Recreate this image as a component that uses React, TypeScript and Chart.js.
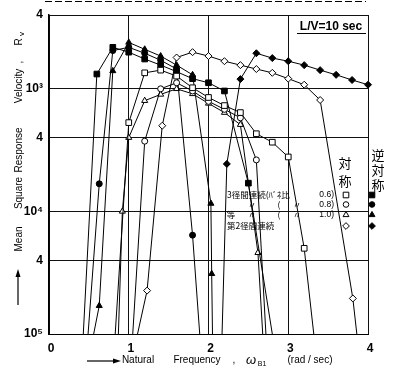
import React, { useEffect, useRef } from 'react';
import { Chart, registerables } from 'chart.js';

Chart.register(...registerables);

// ---------- axis ticks ----------
const xTickValues = [0, 1, 2, 3, 4];
const yTickValues = [1e-5, 4e-5, 1e-4, 4e-4, 1e-3, 4e-3];
const yTickLabels = ['10⁵', '4', '10⁴', '4', '10³', '4'];
const Y_MIN = 1e-5;
const Y_MAX = 4e-3;

// ---------- series: natural frequency (rad/sec) and mean square response velocity ----------
// 3径間連続 ばね比 0.6  対称 (□) / 逆対称 (■)
const omegaSpan3R06Sym = [0.83, 1.0, 1.2, 1.4, 1.6, 1.8, 2.0, 2.2, 2.4, 2.6, 2.8, 3.0, 3.2, 3.32];
const rvSpan3R06Sym = [1e-5, 5.3e-4, 1.35e-3, 1.42e-3, 1.27e-3, 1.02e-3, 8.5e-4, 7.3e-4, 6.4e-4, 4.3e-4, 3.67e-4, 2.78e-4, 5.0e-5, 1e-5];
const omegaSpan3R06Anti = [0.43, 0.6, 0.8, 1.0, 1.2, 1.4, 1.6, 1.8, 2.0, 2.2, 2.5, 2.8];
const rvSpan3R06Anti = [1e-5, 1.32e-3, 2.18e-3, 1.99e-3, 1.75e-3, 1.56e-3, 1.38e-3, 1.21e-3, 1.12e-3, 9.6e-4, 1.7e-4, 1e-5];

// 3径間連続 ばね比 0.8  対称 (○) / 逆対称 (●)
const omegaSpan3R08Sym = [1.05, 1.2, 1.4, 1.6, 1.8, 2.0, 2.2, 2.4, 2.6, 2.72];
const rvSpan3R08Sym = [1e-5, 3.74e-4, 1.0e-3, 1.12e-3, 9.6e-4, 7.9e-4, 6.8e-4, 5.8e-4, 2.63e-4, 1e-5];
const omegaSpan3R08Anti = [0.49, 0.63, 0.8, 1.0, 1.2, 1.4, 1.6, 1.8, 1.89];
const rvSpan3R08Anti = [1e-5, 1.68e-4, 2.05e-3, 2.18e-3, 1.95e-3, 1.71e-3, 1.45e-3, 6.4e-5, 1e-5];

// 3径間連続 ばね比 1.0  対称 (△) / 逆対称 (▲)
const omegaSpan3R10Sym = [0.87, 0.92, 1.0, 1.2, 1.4, 1.6, 1.8, 2.0, 2.2, 2.4, 2.62, 2.68];
const rvSpan3R10Sym = [1e-5, 1e-4, 4.0e-4, 8.0e-4, 9.0e-4, 1.0e-3, 9.1e-4, 7.6e-4, 6.4e-4, 5.1e-4, 4.6e-5, 1e-5];
const omegaSpan3R10Anti = [0.56, 0.63, 0.8, 1.0, 1.2, 1.4, 1.6, 1.8, 2.03, 2.04, 2.05];
const rvSpan3R10Anti = [1e-5, 1.7e-5, 1.4e-3, 2.39e-3, 2.1e-3, 1.85e-3, 1.56e-3, 1.3e-3, 1.16e-4, 3.1e-5, 1e-5];

// 第2径間連続  対称 (◇) / 逆対称 (◆)
const omegaSpan2Sym = [1.11, 1.23, 1.42, 1.6, 1.8, 2.0, 2.2, 2.4, 2.6, 2.8, 3.0, 3.2, 3.4, 3.81, 3.86];
const rvSpan2Sym = [1e-5, 2.26e-5, 5.0e-4, 1.8e-3, 1.99e-3, 1.85e-3, 1.68e-3, 1.56e-3, 1.45e-3, 1.35e-3, 1.21e-3, 1.08e-3, 8.1e-4, 1.95e-5, 1e-5];
const omegaSpan2Anti = [2.17, 2.23, 2.4, 2.6, 2.8, 3.0, 3.2, 3.4, 3.6, 3.8, 4.0];
const rvSpan2Anti = [1e-5, 2.44e-4, 1.2e-3, 1.95e-3, 1.78e-3, 1.68e-3, 1.56e-3, 1.42e-3, 1.30e-3, 1.18e-3, 1.08e-3];

// ---------- texts ----------
const yTitleWords = ['Mean', 'Square', 'Response', 'Velocity', ',', 'R'];
const xTitleWords = ['Natural', 'Frequency', ',', 'ω', '(rad / sec)'];
const caseNote = 'L/V=10 sec';
const legendCol1 = ['対', '称'];
const legendCol2 = ['逆', '対', '称'];

const LATIN = '"Liberation Sans", Arial, sans-serif';
const CJK = '"Noto Sans CJK JP", "Noto Sans CJK SC", sans-serif';

type Marker = 'rect' | 'circle' | 'triangle' | 'rectRot';

function drawMarker(ctx: CanvasRenderingContext2D, style: Marker, filled: boolean, x: number, y: number, r: number) {
  ctx.beginPath();
  if (style === 'rect') {
    ctx.rect(x - r, y - r, 2 * r, 2 * r);
  } else if (style === 'circle') {
    ctx.arc(x, y, r, 0, Math.PI * 2);
  } else if (style === 'triangle') {
    ctx.moveTo(x, y - r * 1.1);
    ctx.lineTo(x + r * 1.05, y + r * 0.75);
    ctx.lineTo(x - r * 1.05, y + r * 0.75);
    ctx.closePath();
  } else {
    ctx.moveTo(x, y - r * 1.2);
    ctx.lineTo(x + r * 1.2, y);
    ctx.lineTo(x, y + r * 1.2);
    ctx.lineTo(x - r * 1.2, y);
    ctx.closePath();
  }
  ctx.fillStyle = filled ? '#000' : '#fff';
  ctx.fill();
  ctx.lineWidth = 1;
  ctx.strokeStyle = '#000';
  ctx.stroke();
}

const annotationPlugin = {
  id: 'annotationPlugin',
  afterDraw(chart: any) {
    const ctx: CanvasRenderingContext2D = chart.ctx;
    ctx.save();
    ctx.fillStyle = '#000';
    ctx.strokeStyle = '#000';

    // scan artifact line at the very top
    ctx.lineWidth = 1;
    ctx.setLineDash([7, 3]);
    ctx.beginPath();
    ctx.moveTo(45, 1.5);
    ctx.lineTo(366, 1.5);
    ctx.stroke();
    ctx.setLineDash([]);

    // y-axis title (rotated words)
    const yCenters = [239, 193, 150, 86, 62, 42];
    ctx.font = `10px ${LATIN}`;
    ctx.textAlign = 'center';
    ctx.textBaseline = 'middle';
    yTitleWords.forEach((w, i) => {
      ctx.save();
      ctx.translate(19, yCenters[i]);
      ctx.rotate(-Math.PI / 2);
      ctx.fillText(w, 0, 0);
      ctx.restore();
    });
    ctx.save();
    ctx.translate(22, 34);
    ctx.rotate(-Math.PI / 2);
    ctx.font = `8px ${LATIN}`;
    ctx.fillText('v', 0, 0);
    ctx.restore();
    // y arrow
    ctx.lineWidth = 1.2;
    ctx.beginPath();
    ctx.moveTo(18, 305);
    ctx.lineTo(18, 276);
    ctx.stroke();
    ctx.beginPath();
    ctx.moveTo(18, 269);
    ctx.lineTo(15.5, 277);
    ctx.lineTo(20.5, 277);
    ctx.closePath();
    ctx.fill();

    // x-axis title
    const xCenters = [138, 197, 234, 251, 310];
    xTitleWords.forEach((w, i) => {
      ctx.font = i === 3 ? `italic 13px ${LATIN}` : `10px ${LATIN}`;
      ctx.fillText(w, xCenters[i], 360);
    });
    ctx.font = `7px ${LATIN}`;
    ctx.fillText('B1', 262, 364);
    ctx.lineWidth = 1.2;
    ctx.beginPath();
    ctx.moveTo(87, 361);
    ctx.lineTo(114, 361);
    ctx.stroke();
    ctx.beginPath();
    ctx.moveTo(121, 361);
    ctx.lineTo(113, 358.5);
    ctx.lineTo(113, 363.5);
    ctx.closePath();
    ctx.fill();

    // L/V note
    ctx.font = `bold 12px ${LATIN}`;
    ctx.fillText(caseNote, 331, 27);
    ctx.lineWidth = 1.2;
    ctx.beginPath();
    ctx.moveTo(297, 33.5);
    ctx.lineTo(366, 33.5);
    ctx.stroke();

    // legend headers (vertical)
    ctx.font = `13px ${CJK}`;
    [163, 181].forEach((yy, i) => ctx.fillText(legendCol1[i], 345, yy));
    [155, 170, 185].forEach((yy, i) => ctx.fillText(legendCol2[i], 378, yy));

    // legend rows
    const rows = [195, 204.5, 214.5, 226];
    ctx.font = `8.5px ${CJK}`;
    ctx.textAlign = 'left';
    ctx.fillText('3径間連続(ﾊﾞﾈ比', 227, rows[0]);
    ctx.fillText('第2径間連続', 227, rows[3]);
    ctx.textAlign = 'center';
    ctx.fillText('等', 231, rows[2]);
    ctx.fillText('〃', 252, rows[1]);
    ctx.fillText('〃', 252, rows[2]);
    ctx.fillText('(', 279, rows[1]);
    ctx.fillText('(', 279, rows[2]);
    ctx.fillText('〃', 297, rows[1]);
    ctx.fillText('〃', 297, rows[2]);
    ctx.textAlign = 'right';
    ctx.font = `8.5px ${LATIN}`;
    ctx.fillText('0.6)', 334, rows[0]);
    ctx.fillText('0.8)', 334, rows[1]);
    ctx.fillText('1.0)', 334, rows[2]);

    const styles: Marker[] = ['rect', 'circle', 'triangle', 'rectRot'];
    styles.forEach((s, i) => {
      drawMarker(ctx, s, false, 346, rows[i], 2.8);
      drawMarker(ctx, s, true, 372, rows[i], 2.8);
    });

    ctx.restore();
  },
};

function makeSeries(label: string, omega: number[], rv: number[], style: Marker, filled: boolean, radius: number) {
  return {
    label,
    data: omega.map((w, i) => ({ x: w, y: rv[i] })),
    borderColor: '#000',
    borderWidth: 1,
    backgroundColor: filled ? '#000' : '#fff',
    pointStyle: style,
    pointBorderColor: '#000',
    pointBackgroundColor: filled ? '#000' : '#fff',
    pointBorderWidth: 1,
    pointRadius: (c: any) => (c.raw && c.raw.y <= Y_MIN * 1.0001 ? 0 : radius),
    tension: 0,
    fill: false,
    clip: false,
  };
}

export default function App() {
  const ref = useRef<HTMLCanvasElement>(null);

  useEffect(() => {
    if (!ref.current) return;
    const tickFont = { family: LATIN, size: 12, weight: 'bold' as const };
    const chart = new Chart(ref.current, {
      type: 'line',
      data: {
        datasets: [
          makeSeries('3径間連続 0.6 対称', omegaSpan3R06Sym, rvSpan3R06Sym, 'rect', false, 4),
          makeSeries('3径間連続 0.6 逆対称', omegaSpan3R06Anti, rvSpan3R06Anti, 'rect', true, 4),
          makeSeries('3径間連続 0.8 対称', omegaSpan3R08Sym, rvSpan3R08Sym, 'circle', false, 3),
          makeSeries('3径間連続 0.8 逆対称', omegaSpan3R08Anti, rvSpan3R08Anti, 'circle', true, 3),
          makeSeries('3径間連続 1.0 対称', omegaSpan3R10Sym, rvSpan3R10Sym, 'triangle', false, 3.5),
          makeSeries('3径間連続 1.0 逆対称', omegaSpan3R10Anti, rvSpan3R10Anti, 'triangle', true, 3.5),
          makeSeries('第2径間連続 対称', omegaSpan2Sym, rvSpan2Sym, 'rectRot', false, 3.5),
          makeSeries('第2径間連続 逆対称', omegaSpan2Anti, rvSpan2Anti, 'rectRot', true, 3.5),
        ] as any,
      },
      options: {
        responsive: false,
        animation: false,
        devicePixelRatio: 1,
        layout: { padding: { left: 0, right: 25, top: 15, bottom: 0 } },
        plugins: { legend: { display: false }, tooltip: { enabled: false } },
        scales: {
          x: {
            type: 'linear',
            min: 0,
            max: 4,
            afterBuildTicks: (s: any) => {
              s.ticks = xTickValues.map((v) => ({ value: v }));
            },
            afterFit: (s: any) => {
              s.height = 39;
            },
            ticks: { color: '#000', font: tickFont, padding: 7, labelOffset: 2, maxRotation: 0, autoSkip: false },
            grid: { color: '#111', lineWidth: 1, drawTicks: false },
            border: { display: true, color: '#000', width: 1 },
          },
          y: {
            type: 'logarithmic',
            min: Y_MIN,
            max: Y_MAX,
            afterBuildTicks: (s: any) => {
              s.ticks = yTickValues.map((v) => ({ value: v }));
            },
            afterFit: (s: any) => {
              s.width = 49;
            },
            ticks: {
              color: '#000',
              font: tickFont,
              padding: 6,
              autoSkip: false,
              callback: (v: any) => {
                const i = yTickValues.findIndex((t) => Math.abs(t - Number(v)) / t < 1e-6);
                return i >= 0 ? yTickLabels[i] : '';
              },
            },
            grid: { color: '#111', lineWidth: 1, drawTicks: false },
            border: { display: true, color: '#000', width: 1.5 },
          },
        },
      } as any,
      plugins: [annotationPlugin],
    });
    return () => chart.destroy();
  }, []);

  return (
    <div style={{ position: 'absolute', left: 0, top: 0, width: 393, height: 373, background: '#fff' }}>
      <canvas ref={ref} width={393} height={373} style={{ display: 'block', width: 393, height: 373 }} />
    </div>
  );
}
